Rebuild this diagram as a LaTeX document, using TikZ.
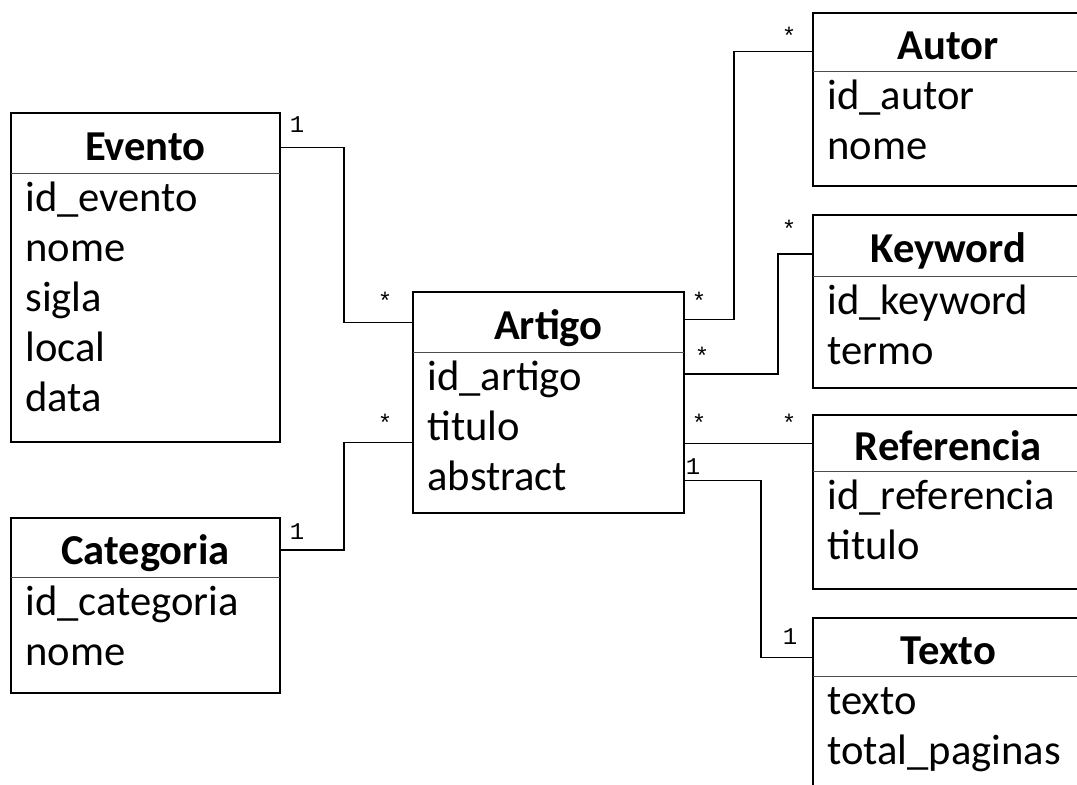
\documentclass[tikz,border=0pt]{standalone}
\usepackage{fontspec}
\setmainfont{Carlito}
\newfontfamily\multfont{Liberation Mono}
\usepackage{tikz}

\newcommand{\entsize}{\fontsize{21.3}{25}\selectfont}

\begin{document}
\begin{tikzpicture}[x=0.5pt, y=-0.5pt,
      head/.style={anchor=north west, inner sep=0,
          text height=16.7pt, text depth=0pt,
          font=\entsize\bfseries},
      attrs/.style={anchor=north west, inner xsep=7pt, inner ysep=0,
          text height=19pt, align=left, font=\entsize},
      frame/.style={line width=1pt},
      sep/.style={line width=0.5pt, black!70},
      assoc/.style={line width=0.9pt},
      mult/.style={anchor=base, inner sep=0,
          font=\multfont\fontsize{12}{12}\selectfont},
    ]
    \clip (0,0) rectangle (1077,784);

    %% --- Left column ---
    \node[head, minimum width=134pt, minimum height=30pt] (evento) at (11,113) {Evento};
    \node[attrs, text width=120pt, text depth=115pt] (evento-attr) at (11,173)
    {id\_evento\\nome\\sigla\\local\\data};
    \draw[frame] (evento.north west) rectangle (evento-attr.south east);
    \draw[sep] (evento.south west) -- (evento.south east);

    \node[head, minimum width=134pt, minimum height=29.5pt] (categoria) at (11,518) {Categoria};
    \node[attrs, text width=120pt, text depth=38.5pt] (categoria-attr) at (11,577)
    {id\_categoria\\nome};
    \draw[frame] (categoria.north west) rectangle (categoria-attr.south east);
    \draw[sep] (categoria.south west) -- (categoria.south east);

    %% --- Centre ---
    \node[head, minimum width=135pt, minimum height=30pt] (artigo) at (413,292) {Artigo};
    \node[attrs, text width=121pt, text depth=61pt] (artigo-attr) at (413,352)
    {id\_artigo\\titulo\\abstract};
    \draw[frame] (artigo.north west) rectangle (artigo-attr.south east);
    \draw[sep] (artigo.south west) -- (artigo.south east);

    %% --- Right column ---
    \node[head, minimum width=135pt, minimum height=29pt] (autor) at (813,13) {Autor};
    \node[attrs, text width=121pt, text depth=38pt] (autor-attr) at (813,71)
    {id\_autor\\nome};
    \draw[frame] (autor.north west) rectangle (autor-attr.south east);
    \draw[sep] (autor.south west) -- (autor.south east);

    \node[head, minimum width=135pt, minimum height=30.5pt] (keyword) at (813,215) {Keyword};
    \node[attrs, text width=121pt, text depth=36.5pt] (keyword-attr) at (813,276)
    {id\_keyword\\termo};
    \draw[frame] (keyword.north west) rectangle (keyword-attr.south east);
    \draw[sep] (keyword.south west) -- (keyword.south east);

    \node[head, minimum width=135pt, minimum height=28pt] (referencia) at (813,415) {Referencia};
    \node[attrs, text width=121pt, text depth=39.5pt] (referencia-attr) at (813,471)
    {id\_referencia\\titulo};
    \draw[frame] (referencia.north west) rectangle (referencia-attr.south east);
    \draw[sep] (referencia.south west) -- (referencia.south east);

    \node[head, minimum width=135pt, minimum height=29pt] (texto) at (813,618) {Texto};
    \node[attrs, text width=121pt, text depth=45pt] (texto-attr) at (813,676)
    {texto\\total\_paginas};
    \draw[frame] (texto.north west) rectangle (texto-attr.south east);
    \draw[sep] (texto.south west) -- (texto.south east);

    %% --- Associations ---
    \draw[assoc] ([yshift=-2pt]evento.east) -- ++(64,0) |- (artigo.west);
    \draw[assoc] ([yshift=-1pt]categoria.east) -- ++(64,0) |- ([yshift=-5pt]artigo-attr.west);
    \draw[assoc] ([yshift=1.5pt]artigo.east) -- ++(50,0) |- ([yshift=-4.5pt]autor.west);
    \draw[assoc] ([yshift=-11pt]artigo-attr.north east) -- ++(94,0) |- ([yshift=-4pt]keyword.west);
    \draw[assoc] (referencia.west -| artigo-attr.east) -- (referencia.west);
    \draw[assoc] ([yshift=-24pt]artigo-attr.east) -- ++(77,0) |- ([yshift=-5pt]texto.west);

    %% --- Multiplicities ---
    \node[mult] (m-ev)   at (297,132) {1};
    \node[mult] (m-ev2)  at (385,309) {*};
    \node[mult] (m-cat)  at (297,539) {1};
    \node[mult] (m-cat2) at (385,431) {*};
    \node[mult] (m-au)   at (699,309) {*};
    \node[mult] (m-au2)  at (789,44)  {*};
    \node[mult] (m-kw)   at (702,364) {*};
    \node[mult] (m-kw2)  at (789,237) {*};
    \node[mult] (m-ref)  at (699,431) {*};
    \node[mult] (m-ref2) at (789,431) {*};
    \node[mult] (m-tx)   at (693,474) {1};
    \node[mult] (m-tx2)  at (790,644) {1};

\end{tikzpicture}
\end{document}
